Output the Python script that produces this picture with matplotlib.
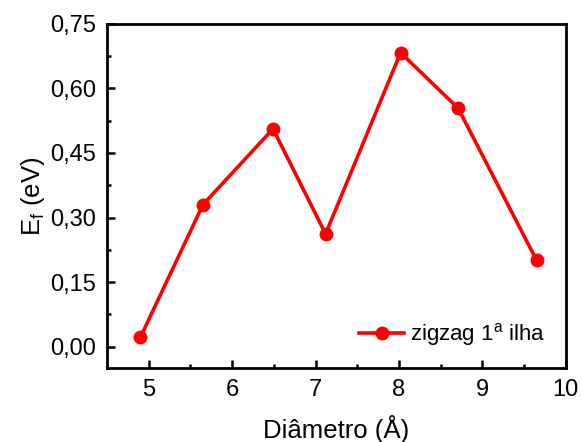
import matplotlib.pyplot as plt
from matplotlib.ticker import FuncFormatter, MultipleLocator

plt.rcParams['font.family'] = ['Liberation Sans', 'DejaVu Sans']
plt.rcParams['mathtext.fontset'] = 'custom'
plt.rcParams['mathtext.rm'] = 'Liberation Sans'

diametro = [4.90, 5.65, 6.49, 7.12, 8.02, 8.71, 9.65]
ef = [0.022, 0.330, 0.506, 0.262, 0.683, 0.554, 0.201]

fig = plt.figure(figsize=(5.82, 4.42), dpi=100)
ax = fig.add_axes([0.184, 0.167, 0.788, 0.779])

ax.plot(diametro, ef, color='red', linewidth=2.6, marker='o', markersize=9,
        label='zigzag 1$^{\\mathrm{a}}$ ilha')

ax.set_xlim(4.5, 10)
ax.set_ylim(-0.05, 0.75)
ax.xaxis.set_major_locator(MultipleLocator(1))
ax.xaxis.set_minor_locator(MultipleLocator(0.5))
ax.yaxis.set_major_locator(MultipleLocator(0.15))
ax.yaxis.set_minor_locator(MultipleLocator(0.075))
ax.yaxis.set_major_formatter(FuncFormatter(lambda v, p: f'{v:.2f}'.replace('.', ',')))

ax.tick_params(which='both', direction='in', width=1.8, labelsize=17, pad=8)
ax.tick_params(which='major', length=6)
ax.tick_params(which='minor', length=3)
for s in ax.spines.values():
    s.set_linewidth(2)

ax.set_xlabel('Diâmetro (Å)', fontsize=18.5, labelpad=10)
ax.set_ylabel('E$_\\mathrm{f}$ (eV)', fontsize=18.5, labelpad=2)

ax.legend(loc='lower right', frameon=False, fontsize=16, handlelength=2.0,
          handletextpad=0.3, borderaxespad=0.5)

fig.savefig('out.png', dpi=100)
